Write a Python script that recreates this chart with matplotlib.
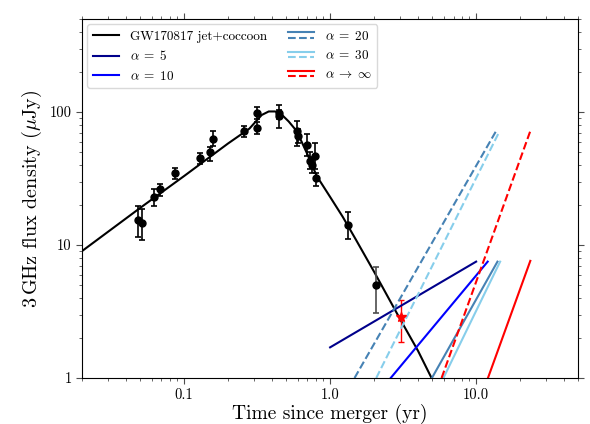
import numpy as np
import matplotlib
matplotlib.use('Agg')
import matplotlib.pyplot as plt
from matplotlib.legend_handler import HandlerBase
from matplotlib.lines import Line2D

plt.rcParams['font.family'] = 'serif'
plt.rcParams['font.serif'] = ['cmr10']
plt.rcParams['mathtext.fontset'] = 'cm'
plt.rcParams['axes.unicode_minus'] = False

# model light curve
model_t = [0.02, 0.05, 0.1, 0.2, 0.28, 0.34, 0.38, 0.42, 0.46, 0.52, 0.59, 0.7, 0.81, 1.0, 1.22, 1.5, 2.0, 3.0, 4.0, 4.95]
model_f = [9.0, 19.0, 33.0, 58.0, 75.0, 95.0, 101.0, 101.0, 97.0, 85.0, 72.0, 48.0, 33.0, 23.0, 16.3, 11.0, 6.3, 2.8, 1.6, 1.0]

# observed points
obs_t = [0.0486, 0.0517, 0.0624, 0.068, 0.0873, 0.128, 0.150, 0.158, 0.256, 0.316, 0.316, 0.447, 0.447,
         0.59, 0.605, 0.696, 0.734, 0.747, 0.785, 0.805, 1.32]
obs_f = [15.3, 14.7, 23.0, 26.2, 34.5, 44.8, 49.8, 62.8, 72.0, 75.7, 98.0, 98.0, 92.8,
         71.4, 65.5, 56.5, 42.8, 39.9, 47.0, 32.0, 14.2]
obs_lo = [11.5, 11.0, 19.7, 23.4, 31.6, 41.0, 43.0, 56.0, 65.0, 68.0, 89.0, 88.0, 76.0,
          56.0, 58.0, 47.0, 37.0, 35.0, 37.0, 28.0, 11.1]
obs_hi = [19.5, 18.5, 26.5, 29.0, 38.2, 49.0, 55.0, 71.5, 78.4, 84.0, 109.0, 112.0, 103.0,
          86.0, 74.0, 68.0, 50.0, 46.0, 58.0, 35.0, 17.8]

late_t, late_f, late_lo, late_hi = 2.06, 4.98, 3.1, 6.8
star_t, star_f, star_lo, star_hi = 3.04, 2.88, 1.88, 3.85

# late-time rebrightening curves: (t_start, t_end) and (f_start, f_end)
alpha_labels = [r'$\alpha\;=\;5$', r'$\alpha\;=\;10$', r'$\alpha\;=\;20$', r'$\alpha\;=\;30$',
                r'$\alpha\;\rightarrow\;\infty$']
alpha_colors = ['darkblue', 'blue', 'steelblue', 'skyblue', 'red']
solid_t = [(1.0, 10.0), (2.6, 12.0), (4.98, 14.0), (5.97, 14.6), (12.05, 23.5)]
solid_f = [(1.7, 7.5), (1.0, 7.5), (1.0, 7.5), (1.0, 7.5), (1.0, 7.6)]
dash_t = {2: (1.47, 13.7), 3: (2.07, 14.4), 4: (5.8, 23.5)}
dash_f = {2: (1.0, 72.0), 3: (1.0, 71.0), 4: (1.0, 72.0)}


class HandlerStack(HandlerBase):
    def create_artists(self, legend, orig_handle, xdescent, ydescent,
                       width, height, fontsize, trans):
        out = []
        ys = [0.8 * height, 0.2 * height]
        for h, y in zip(orig_handle, ys):
            l = Line2D([-xdescent, -xdescent + width], [y - ydescent, y - ydescent],
                       color=h.get_color(), linestyle=h.get_linestyle(), lw=h.get_linewidth())
            l.set_transform(trans)
            out.append(l)
        return out


fig = plt.figure(figsize=(5.9, 4.24), dpi=100)
ax = fig.add_axes([0.139, 0.1085, 0.841, 0.8465])

m, = ax.plot(model_t, model_f, color='k', lw=1.5, label='GW170817 jet+coccoon')

yerr = [np.array(obs_f) - np.array(obs_lo), np.array(obs_hi) - np.array(obs_f)]
ax.errorbar(obs_t, obs_f, yerr=yerr, fmt='o', color='k', ms=5, capsize=2.5, elinewidth=1.2, capthick=1.2)
ax.errorbar([late_t], [late_f], yerr=[[late_f - late_lo], [late_hi - late_f]], fmt='o', color='k',
            ecolor='0.3', ms=5, capsize=2.5, elinewidth=1.2, capthick=1.2)
ax.errorbar([star_t], [star_f], yerr=[[star_f - star_lo], [star_hi - star_f]], fmt='*', color='red',
            ms=7, capsize=2.5, elinewidth=1.0, capthick=1.0)

handles = [m]
for i in range(5):
    s, = ax.plot(solid_t[i], solid_f[i], color=alpha_colors[i], lw=1.5)
    if i in dash_t:
        d, = ax.plot(dash_t[i], dash_f[i], color=alpha_colors[i], lw=1.5, ls='--')
        handles.append((s, d))
    else:
        handles.append(s)

ax.set_xscale('log')
ax.set_yscale('log')
ax.set_xlim(0.02, 50)
ax.set_ylim(1, 500)
ax.set_xticks([0.1, 1, 10])
ax.set_xticklabels(['0.1', '1.0', '10.0'])
ax.set_yticks([1, 10, 100])
ax.set_yticklabels(['1', '10', '100'])
ax.tick_params(which='both', top=True, right=True, direction='out', labelsize=10.5, color='0.3')
ax.tick_params(which='major', length=4)
ax.tick_params(which='minor', length=2.5)

ax.set_xlabel('Time since merger (yr)', fontsize=14, labelpad=1)
ax.set_ylabel(r'3$\,$GHz flux density ($\mu$Jy)', fontsize=14.5)

ax.legend(handles, ['GW170817 jet+coccoon'] + alpha_labels, loc='upper left', ncol=2,
          fontsize=9.5, handler_map={tuple: HandlerStack()}, framealpha=1, edgecolor='0.85',
          columnspacing=1.6, borderaxespad=0.4)

fig.savefig('out.png', dpi=100)
